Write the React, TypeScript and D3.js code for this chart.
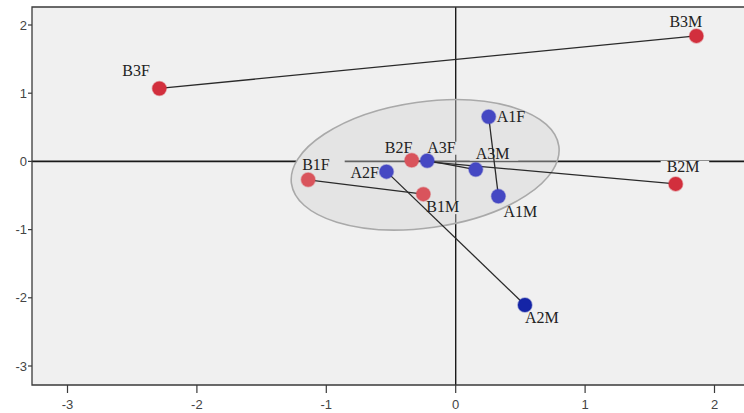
import React from 'react';
import * as d3 from 'd3';

// category labels and their coordinates on the two dimensions
const names = ['B3M', 'B3F', 'A1F', 'B2F', 'A3F', 'A3M', 'A2F', 'B1F', 'B1M', 'A1M', 'B2M', 'A2M'];
const dim1 = [1.86, -2.29, 0.255, -0.34, -0.22, 0.155, -0.535, -1.14, -0.25, 0.33, 1.70, 0.535];
const dim2 = [1.84, 1.07, 0.655, 0.016, 0.01, -0.12, -0.15, -0.27, -0.48, -0.51, -0.33, -2.105];

// F/M pairs joined by a line
const pairs = [
  ['A1F', 'A1M'],
  ['A2F', 'A2M'],
  ['A3F', 'A3M'],
  ['B1F', 'B1M'],
  ['B2F', 'B2M'],
  ['B3F', 'B3M'],
];

const xTicks = [-3, -2, -1, 0, 1, 2];
const yTicks = [2, 1, 0, -1, -2, -3];

// ellipse around the central cluster
const ellipseCenter = [-0.236, -0.05];

const W = 744;
const H = 413;

const fillOf: Record<string, string> = {
  B3M: '#d22f3d', B3F: '#d22f3d', B2M: '#d22f3d',
  B1F: '#d9545c', B2F: '#d9545c', B1M: '#d9545c',
  A1F: '#4548c3', A3F: '#4548c3', A3M: '#4548c3', A2F: '#4548c3', A1M: '#4548c3',
  A2M: '#1424a6',
};

// label offset from point centre: text start x, baseline y
const labelOff: Record<string, [number, number]> = {
  B3M: [-27, -9], B3F: [-37, -12], A1F: [8, 5], B2F: [-27, -7],
  A3F: [0, -8], A3M: [0, -11], B1F: [-6, -10], A2F: [-36, 6],
  B1M: [3, 18], A1M: [5, 21], B2M: [-9, -12], A2M: [0, 18],
};

export default function App() {
  const x = d3.scaleLinear().domain([-3, 2]).range([67.5, 714.5]);
  const y = d3.scaleLinear().domain([-3, 2]).range([366, 25]);

  const left = 32, top = 7, bottom = 385, right = W;

  const pts = names.map((n, i) => ({ n, px: x(dim1[i]), py: y(dim2[i]) }));
  const byName: Record<string, { px: number; py: number }> = {};
  pts.forEach((p) => (byName[p.n] = p));

  const serif = "'Liberation Serif', 'Times New Roman', serif";
  const sans = "'Liberation Sans Narrow', 'Arial Narrow', 'Liberation Sans', Arial, sans-serif";
  const labelSize = 16;

  const ex = x(ellipseCenter[0]);
  const ey = y(ellipseCenter[1]);

  return (
    <svg width={W} height={H} style={{ position: 'absolute', left: 0, top: 0, background: '#fff' }}>
      <rect x={left} y={top} width={right - left} height={bottom - top} fill="#f0f0f0" />

      {/* zero lines */}
      <line x1={left} x2={right} y1={y(0)} y2={y(0)} stroke="#1a1a1a" strokeWidth={1.6} />
      <line x1={x(0)} x2={x(0)} y1={top} y2={bottom} stroke="#1a1a1a" strokeWidth={1.4} />

      {/* label boxes hide the zero lines behind the text */}
      {pts.map((p) => {
        const [dx, dy] = labelOff[p.n];
        const tw = p.n.length * 15 * 0.7;
        return (
          <rect key={'b' + p.n} x={p.px + dx - 6} y={p.py + dy - 11} width={tw + 17} height={13} fill="#f0f0f0" />
        );
      })}

      <ellipse
        cx={ex}
        cy={ey}
        rx={135}
        ry={63}
        transform={`rotate(-8 ${ex} ${ey})`}
        fill="#d2d2d2"
        fillOpacity={0.4}
        stroke="#a9a9a9"
        strokeWidth={1.6}
      />

      {/* frame */}
      <path d={`M${right},${top}H${left}V${bottom}H${right}`} fill="none" stroke="#3a3a3a" strokeWidth={1.3} />

      {yTicks.map((t) => (
        <g key={'y' + t}>
          <line x1={left - 4} x2={left} y1={y(t)} y2={y(t)} stroke="#3a3a3a" strokeWidth={1.2} />
          <text x={left - 5} y={y(t) + 4.5} textAnchor="end" fontSize={13} fontFamily={sans} fill="#444">
            {t}
          </text>
        </g>
      ))}
      {xTicks.map((t) => (
        <g key={'x' + t}>
          <line x1={x(t)} x2={x(t)} y1={bottom} y2={bottom + 8} stroke="#3a3a3a" strokeWidth={1.2} />
          <text x={x(t)} y={bottom + 24} textAnchor="middle" fontSize={13} fontFamily={sans} fill="#444">
            {t}
          </text>
        </g>
      ))}

      {pairs.map(([a, b]) => (
        <line
          key={a + b}
          x1={byName[a].px}
          y1={byName[a].py}
          x2={byName[b].px}
          y2={byName[b].py}
          stroke="#2a2a2a"
          strokeWidth={1.3}
        />
      ))}

      {pts.map((p) => (
        <circle key={'c' + p.n} cx={p.px} cy={p.py} r={7} fill={fillOf[p.n]} stroke={fillOf[p.n]} strokeOpacity={0.4} strokeWidth={1.5} />
      ))}

      {pts.map((p) => {
        const [dx, dy] = labelOff[p.n];
        return (
          <text key={'t' + p.n} x={p.px + dx} y={p.py + dy} fontSize={labelSize} fontFamily={serif} fill="#222">
            {p.n}
          </text>
        );
      })}
    </svg>
  );
}
